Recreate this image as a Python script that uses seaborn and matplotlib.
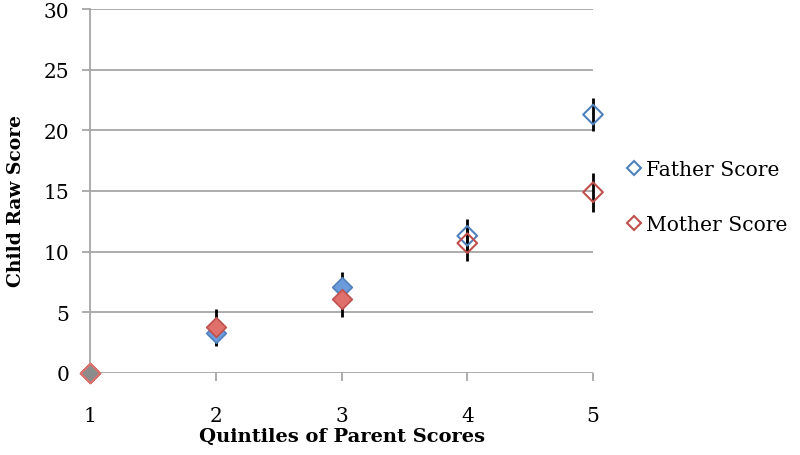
import numpy as np
import pandas as pd
import matplotlib
matplotlib.use("Agg")
import matplotlib.pyplot as plt
import seaborn as sns
from matplotlib.lines import Line2D

quintiles = [1, 2, 3, 4, 5]
father = [0.0, 3.3, 7.1, 11.3, 21.3]
mother = [0.0, 3.8, 6.1, 10.7, 14.9]
father_err = [0.0, 1.1, 1.2, 1.4, 1.35]
mother_err = [0.0, 1.5, 1.5, 1.5, 1.6]
filled = [True, True, True, False, False]
yticks = [0, 5, 10, 15, 20, 25, 30]

sns.set_theme(style="white")
plt.rcParams['font.family'] = ['DejaVu Serif']
plt.rcParams['text.color'] = 'black'
plt.rcParams['axes.labelcolor'] = 'black'
plt.rcParams['xtick.color'] = 'black'
plt.rcParams['ytick.color'] = 'black'

fig = plt.figure(figsize=(8, 4.56), dpi=100)
ax = fig.add_axes([0.1125, 0.18, 0.6288, 0.798])

blue_e, blue_f = "#4F81BD", "#6B9BDB"
red_e, red_f = "#C0504D", "#E0706C"
grid_c = "#a6a6a6"

df = pd.DataFrame({"q": quintiles * 2,
                   "score": father + mother,
                   "err": father_err + mother_err,
                   "series": ["Father Score"] * 5 + ["Mother Score"] * 5,
                   "filled": filled * 2})

for yv in yticks:
    ax.axhline(yv, color=grid_c, lw=1.3, zorder=0)

# error bars
for s in ["Father Score", "Mother Score"]:
    d = df[df.series == s]
    ax.errorbar(d.q, d.score, yerr=d.err, fmt="none", ecolor="black",
                elinewidth=2, capsize=0, zorder=2, clip_on=False)

# markers
for s, ec, fc in [("Father Score", blue_e, blue_f), ("Mother Score", red_e, red_f)]:
    d = df[(df.series == s) & df.filled]
    sns.scatterplot(data=d, x="q", y="score", marker="D", s=100,
                    color=fc, edgecolor=ec, linewidth=1.2, ax=ax, zorder=3,
                    clip_on=False, legend=False)
    d2 = df[(df.series == s) & ~df.filled]
    sns.scatterplot(data=d2, x="q", y="score", marker="D", s=100,
                    facecolor="none", edgecolor=ec, linewidth=1.5, ax=ax,
                    zorder=3, clip_on=False, legend=False)

# overlapping first point appears gray
ax.scatter([quintiles[0]], [father[0]], marker="D", s=100, color="#8c8c8c",
           edgecolor=red_f, linewidth=1.5, zorder=4, clip_on=False)

ax.set_xlim(1, 5)
ax.set_ylim(0, 30)
ax.set_xticks(quintiles)
ax.set_yticks(yticks)
ax.tick_params(axis="both", labelsize=14.5, length=6, width=1.3,
               direction="out", color=grid_c, labelcolor="black")
ax.tick_params(axis="x", pad=18)
ax.tick_params(axis="y", pad=9)
ax.xaxis.set_ticks_position("bottom")
ax.yaxis.set_ticks_position("left")
for side in ["top", "right", "bottom"]:
    ax.spines[side].set_visible(False)
ax.spines["left"].set_color(grid_c)
ax.spines["left"].set_linewidth(1.3)

ax.set_xlabel("Quintiles of Parent Scores", fontsize=14, fontweight="bold", labelpad=1)
ax.set_ylabel("Child Raw Score", fontsize=13.5, fontweight="bold")
ax.yaxis.set_label_coords(-0.13, 0.475)

handles = [Line2D([], [], marker="D", ls="none", markersize=7.5, markerfacecolor="none",
                  markeredgecolor=blue_e, markeredgewidth=1.5),
           Line2D([], [], marker="D", ls="none", markersize=7.5, markerfacecolor="none",
                  markeredgecolor=red_e, markeredgewidth=1.5)]
fig.legend(handles, ["Father Score", "Mother Score"], loc="center left",
           bbox_to_anchor=(0.781, 0.566), frameon=False, fontsize=14.6,
           handletextpad=0.15, labelspacing=1.75, handlelength=0.9,
           borderpad=0, borderaxespad=0)

fig.savefig("out.png", dpi=100)
